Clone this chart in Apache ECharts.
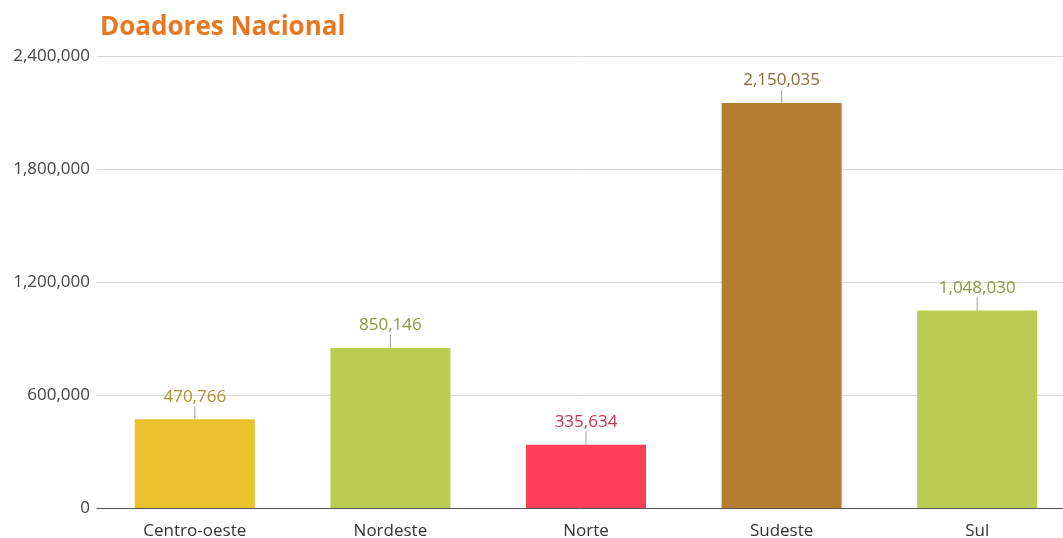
<!DOCTYPE html>
<html>
<head>
<meta charset="utf-8">
<script src="https://cdn.jsdelivr.net/npm/echarts@6/dist/echarts.min.js"></script>
<style>html,body{margin:0;padding:0;background:#fff;}#c{width:1063px;height:538px;}</style>
</head>
<body>
<div id="c"></div>
<script>
const categories = ['Centro-oeste', 'Nordeste', 'Norte', 'Sudeste', 'Sul'];
const values = [470766, 850146, 335634, 2150035, 1048030];
const barColors = ['#ECC12E', '#BBCC52', '#FF3F5A', '#B57D2F', '#BBCC52'];
const labelColors = ['#A8912F', '#889A3A', '#C8364C', '#8A6A34', '#889A3A'];
const yTicks = [0, 600000, 1200000, 1800000, 2400000];

const fmt = v => Number(v).toLocaleString('en-US');
const chart = echarts.init(document.getElementById('c'));
const font = '"Open Sans", "Noto Sans", sans-serif';
chart.setOption({
  animation: false,
  title: {
    text: 'Doadores Nacional', left: 95, top: 10,
    textStyle: { color: '#E87722', fontSize: 26, fontWeight: 'bold', fontFamily: font }
  },
  grid: { left: 97, right: -12, top: 56, bottom: 30, outerBoundsMode: 'none', containLabel: false },
  xAxis: {
    type: 'category', data: categories,
    axisLine: { lineStyle: { color: '#555', width: 1 } },
    axisTick: { show: false },
    axisLabel: { color: '#333', fontSize: 17, fontFamily: font, margin: 15 }
  },
  yAxis: {
    type: 'value', min: yTicks[0], max: yTicks[yTicks.length - 1], interval: yTicks[1] - yTicks[0],
    axisLine: { show: false }, axisTick: { show: false },
    axisLabel: { color: '#444', fontSize: 17, fontFamily: font, margin: 7, formatter: v => fmt(v) },
    splitLine: { lineStyle: { color: '#d9d9d9' } }
  },
  series: [
    {
      type: 'bar', barWidth: 120,
      data: values.map((v, i) => ({
        value: v,
        itemStyle: { color: barColors[i] },
        label: { color: labelColors[i] }
      })),
      label: {
        show: true, position: 'top', distance: 14, fontSize: 17, fontFamily: font,
        formatter: p => fmt(p.value)
      },
      z: 2
    },
    {
      type: 'scatter', symbol: 'rect', symbolSize: [1, 13], symbolOffset: [0, -6.5],
      data: values, itemStyle: { color: '#888' }, silent: true, z: 3
    }
  ]
});
</script>
</body>
</html>
